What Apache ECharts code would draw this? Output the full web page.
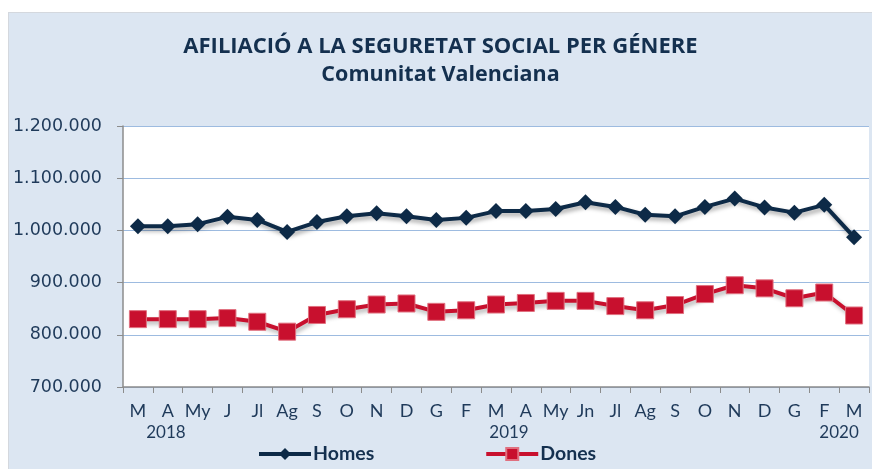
<!DOCTYPE html>
<html>
<head>
<meta charset="utf-8">
<script src="https://cdn.jsdelivr.net/npm/echarts@6/dist/echarts.min.js"></script>
<style>
  html, body { margin: 0; padding: 0; background: #fff; }
  #chart {
    position: absolute; left: 8px; top: 12px;
    width: 863px; height: 456px;
    background: #dce6f2; border: 1px solid #d4d8de;
  }
</style>
</head>
<body>
<div id="chart"></div>
<script>
// month labels (Catalan abbreviations), Mar 2018 .. Mar 2020
const months = ['M', 'A', 'My', 'J', 'Jl', 'Ag', 'S', 'O', 'N', 'D', 'G', 'F',
                'M', 'A', 'My', 'Jn', 'Jl', 'Ag', 'S', 'O', 'N', 'D', 'G', 'F', 'M']
// year shown under some months
const years = { 0: '2018', 12: '2019', 24: '2020' }

const homes = [1008000, 1008000, 1012000, 1026000, 1020000, 997000, 1016000, 1027000, 1033000, 1027000, 1020000, 1024000,
               1037000, 1037000, 1041000, 1054000, 1045000, 1030000, 1027000, 1045000, 1061000, 1044000, 1034000, 1049000, 987000]
const dones = [830000, 830000, 830000, 832000, 825000, 806000, 838000, 849000, 858000, 860000, 844000, 847000,
               858000, 861000, 865000, 865000, 855000, 847000, 857000, 878000, 895000, 889000, 870000, 881000, 837000]

const navy = '#1f3a5a'
const fmt = v => String(v).replace(/\B(?=(\d{3})+(?!\d))/g, '.')

const myChart = echarts.init(document.getElementById('chart'))
const yearStyle = { fontFamily: 'Lato', fontSize: 17, color: navy }
const option = {
    animation: false,
    title: {
        text: '{a|AFILIACIÓ A LA SEGURETAT SOCIAL PER GÉNERE}\n{b|Comunitat Valenciana}',
        left: 'center',
        top: 15,
        textStyle: {
            rich: {
                a: { fontFamily: 'Open Sans', fontWeight: 'bold', fontSize: 22, color: '#14304f', lineHeight: 28 },
                b: { fontFamily: 'Open Sans', fontWeight: 'bold', fontSize: 21.5, color: '#14304f', lineHeight: 28 }
            }
        }
    },
    legend: {
        left: 243,
        top: 426,
        itemWidth: 52,
        itemHeight: 15,
        itemGap: 110,
        textStyle: { fontFamily: 'Lato', fontWeight: 'bold', fontSize: 19.5, color: '#14304f', padding: [0, 0, 0, -3] },
        lineStyle: { width: 4 },
        data: ['Homes', 'Dones']
    },
    grid: {
        left: 114, top: 113, right: 3, bottom: 82,
        outerBoundsMode: 'none',
        show: true, backgroundColor: '#ffffff', borderWidth: 0
    },
    xAxis: {
        type: 'category',
        data: months,
        boundaryGap: true,
        axisLine: { lineStyle: { color: '#8c8c8c', width: 1.5 } },
        axisTick: { show: true, length: 6, lineStyle: { color: '#8c8c8c' } },
        axisLabel: {
            interval: 0,
            margin: 13,
            fontFamily: 'Lato', fontSize: 18, color: navy, lineHeight: 22,
            formatter: (v, i) => years[i] ? v + '\n{y' + i + '|' + years[i] + '}' : v,
            rich: {
                y0: Object.assign({ padding: [0, 0, 0, 56] }, yearStyle),
                y12: Object.assign({ padding: [0, 0, 0, 26] }, yearStyle),
                y24: Object.assign({ padding: [0, 30, 0, 0] }, yearStyle)
            }
        }
    },
    yAxis: {
        type: 'value',
        min: 700000,
        max: 1200000,
        interval: 100000,
        axisLine: { show: true, lineStyle: { color: '#8c8c8c', width: 1.5 } },
        axisTick: { show: true, length: 6, lineStyle: { color: '#8c8c8c' } },
        axisLabel: {
            margin: 21,
            fontFamily: 'DejaVu Sans', fontSize: 17.5, color: navy,
            formatter: v => fmt(v)
        },
        splitLine: { lineStyle: { color: '#9dbbe0', width: 1 } }
    },
    series: [
        {
            name: 'Homes',
            type: 'line',
            data: homes,
            symbol: 'diamond',
            symbolSize: 16,
            itemStyle: { color: '#0d2a47' },
            lineStyle: {
                color: '#0d2a47', width: 4,
                shadowColor: 'rgba(0,0,0,0.35)', shadowBlur: 4, shadowOffsetX: 2, shadowOffsetY: 3
            }
        },
        {
            name: 'Dones',
            type: 'line',
            data: dones,
            symbol: 'rect',
            symbolSize: 17,
            itemStyle: { color: '#c8102e', borderColor: '#e0707f', borderWidth: 1 },
            lineStyle: {
                color: '#c8102e', width: 4,
                shadowColor: 'rgba(0,0,0,0.3)', shadowBlur: 4, shadowOffsetX: 2, shadowOffsetY: 3
            }
        }
    ]
}
myChart.setOption(option)
</script>
</body>
</html>
